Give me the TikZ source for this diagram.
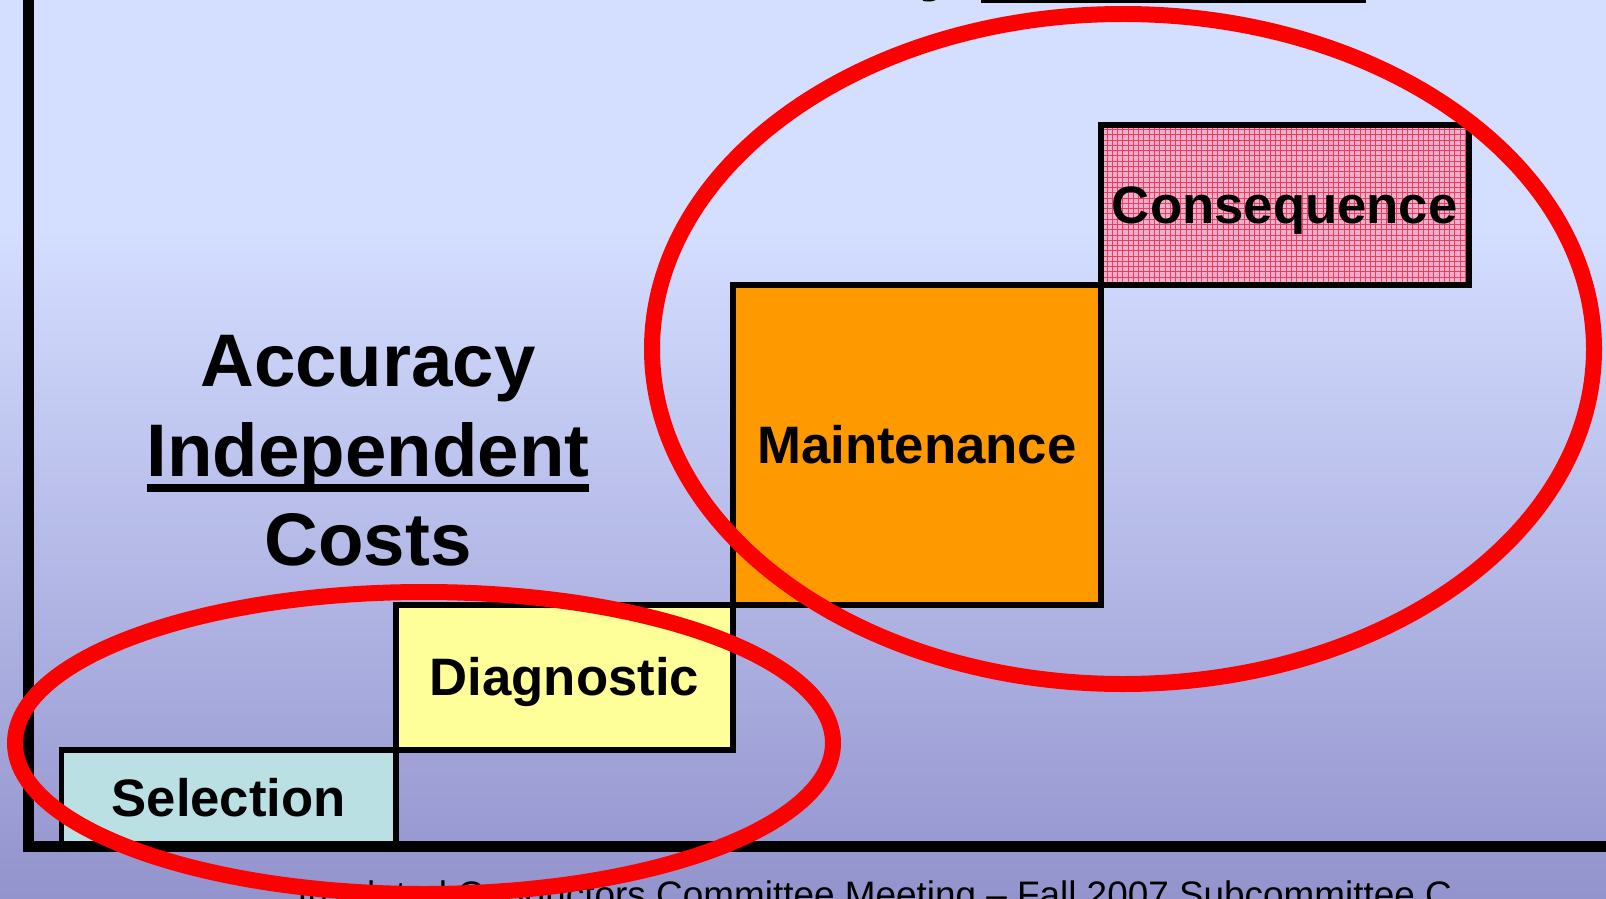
\documentclass[tikz,border=0pt]{standalone}
\usepackage{fontspec}
\setmainfont{Liberation Sans}
\usetikzlibrary{positioning,patterns}
\definecolor{bgtop}{RGB}{212,222,255}
\definecolor{bgmid}{RGB}{184,192,236}
\definecolor{bgbot}{RGB}{147,147,205}
\definecolor{selcol}{RGB}{187,224,227}
\definecolor{diagcol}{RGB}{255,255,153}
\definecolor{maintcol}{RGB}{255,153,0}
\definecolor{conscol}{RGB}{236,176,206}
\definecolor{consgrid}{RGB}{240,60,90}
\newcommand{\UL}[1]{\setbox0\hbox{#1}\rlap{\rule[-0.215em]{\wd0}{0.105em}}\box0}

\begin{document}
\begin{tikzpicture}[x=0.02cm, y=-0.02cm,
  box/.style={draw, line width=0.12cm, outer sep=0pt, inner sep=0pt, anchor=south west,
    text height=21.6pt, text depth=1pt, font=\fontsize{30}{36}\selectfont\bfseries},
  big/.style={font=\fontsize{42.4}{50.9}\selectfont\bfseries},
  ring/.style={draw=red, line width=0.32cm},
  axis/.style={line width=0.22cm}]
\useasboundingbox (0,0) rectangle (1606,899);
\clip (0,0) rectangle (1606,899);
\fill[bgtop] (0,0) rectangle (1606,230);
\shade[top color=bgtop, middle color=bgmid, bottom color=bgbot] (0,230) rectangle (1606,899);
\node[big, anchor=base west, inner sep=0pt] (title) at (625,-13) {Accuracy \UL{Dependent} Costs};
\node[big, align=center, inner sep=0pt] (indep) at (368,451) {Accuracy\\\UL{Independent}\\Costs};
\node[box, fill=selcol, minimum width=6.69cm, minimum height=1.92cm] (sel) at (61.5,846) {Selection};
\node[box, fill=diagcol, minimum width=6.74cm, minimum height=2.9cm] (diag) at (sel.north east) {Diagnostic};
\node[box, fill=maintcol, minimum width=7.36cm, minimum height=6.4cm] (maint) at (diag.north east) {Maintenance};
\node[box, preaction={fill=conscol}, pattern=grid, pattern color=consgrid, minimum width=7.36cm, minimum height=3.2cm] (cons) at (maint.north east) {Consequence};
\coordinate (ytop) at (28.5,0);
\coordinate (xend) at (1606,846);
\draw[axis] (ytop) |- (xend);
\node[anchor=base west, inner sep=0pt, font=\fontsize{21}{25}\selectfont] (foot) at (297,907) {Insulated Conductors Committee Meeting – Fall 2007 Subcommittee C};
\coordinate (lowc) at (424,743);
\coordinate (highc) at (1123,349);
\draw[ring] (lowc) ellipse [x radius=409, y radius=151];
\draw[ring] (highc) ellipse [x radius=471, y radius=335];
\end{tikzpicture}
\end{document}
